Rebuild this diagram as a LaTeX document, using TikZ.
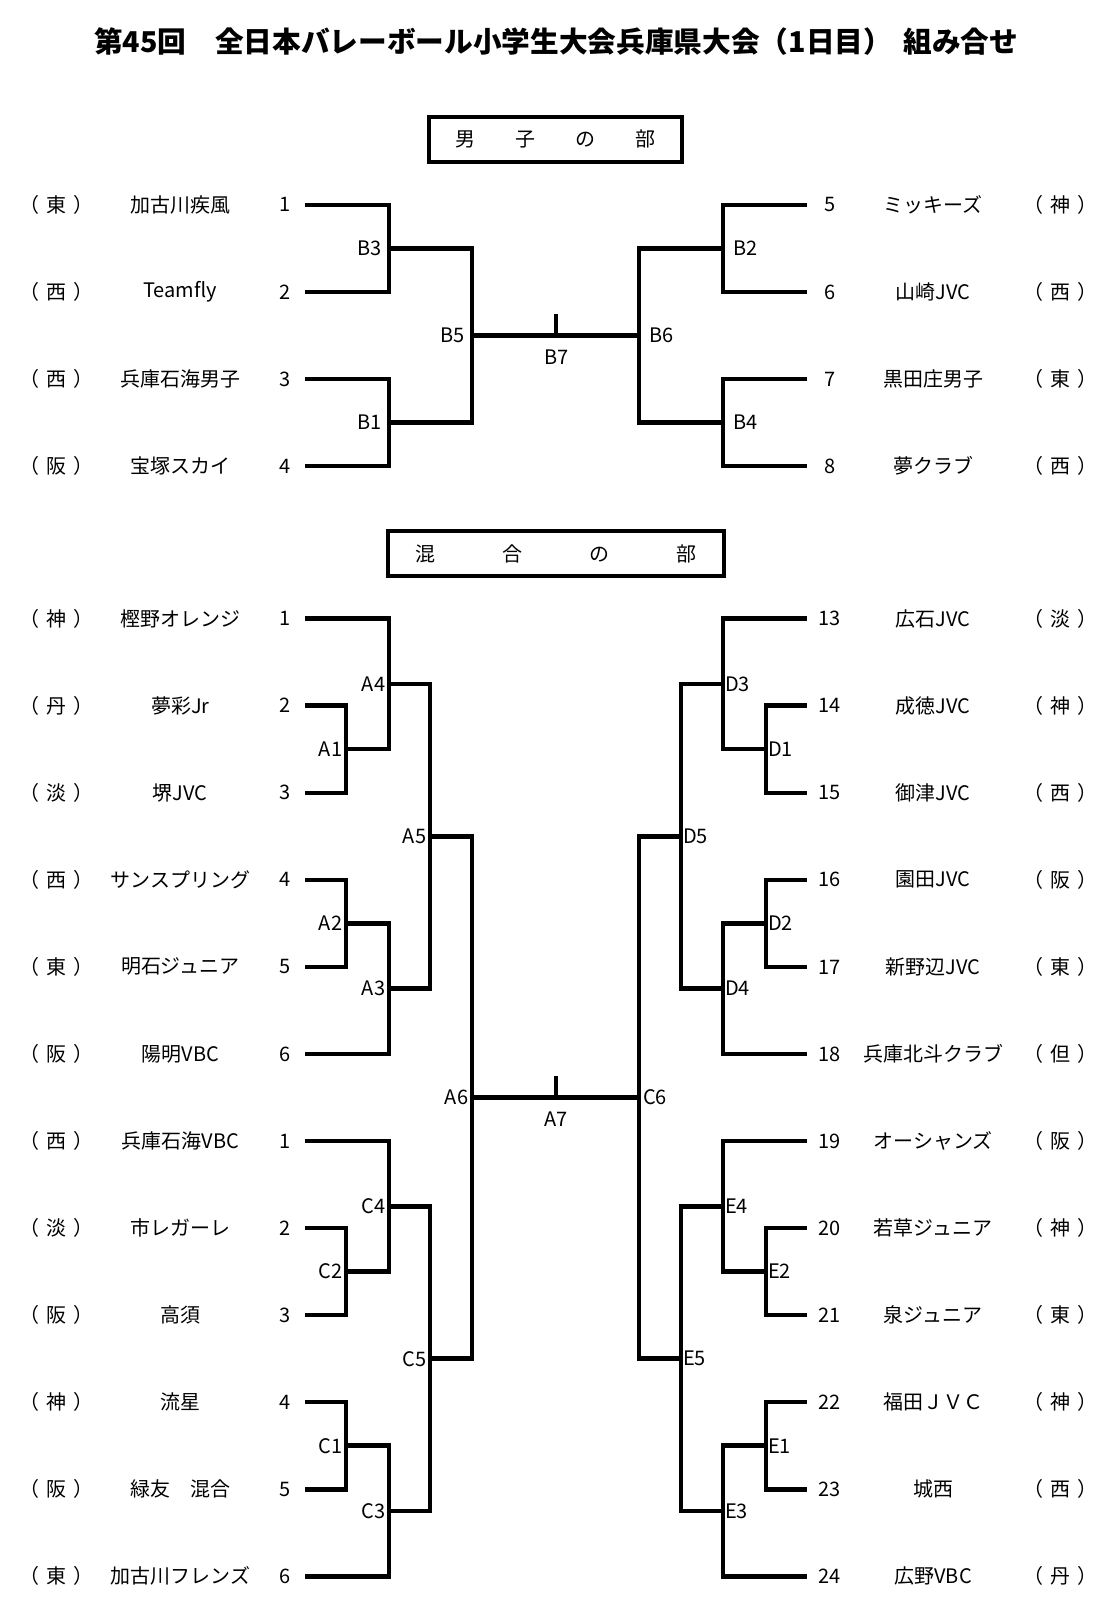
\documentclass[tikz,border=0pt]{standalone}
\usepackage{fontspec}
\setmainfont{Noto Sans CJK JP}
\usetikzlibrary{calc}

\tikzset{
  bracket/.style={line width=2.2pt, line join=miter},
  team/.style={inner sep=0pt, font=\fontsize{9.75}{12}\selectfont},
  game/.style={inner sep=1.8pt, font=\fontsize{9.75}{12}\selectfont},
  headbox/.style={draw, line width=2.2pt, minimum height=22pt, inner sep=0pt,
    font=\fontsize{9.75}{12}\selectfont},
  titletext/.style={inner sep=0pt, font=\fontsize{14}{16}\selectfont\bfseries}
}
\newcommand{\area}[1]{（\hspace{0.35em}#1\hspace{0.35em}）}

\begin{document}
\begin{tikzpicture}[x=0.5pt,y=-0.5pt]
        \useasboundingbox (0,0) rectangle (1088,1567);

        % draw the title
        \node[titletext] (title) at (543,41) {第45回　全日本バレーボール小学生大会兵庫県大会（1日目）\hspace{0.4em}組み合せ};

        % boys
        \node[headbox, minimum width=123.5pt] (boyshead) at (542.5,136)
                {男\hspace{2em}子\hspace{2em}の\hspace{2em}部};

        \foreach \y/\num/\team/\pref in {
            200/1/加古川疾風/東,
            285/2/Teamfly/西,
            370/3/兵庫石海男子/西,
            455/4/宝塚スカイ/阪} {
                \node[team] (bp\num) at (55,\y) {\area{\pref}};
                \node[team] (bt\num) at (176,\y) {\team};
                \node[team] (bn\num) at (278,\y) {\num};
                \coordinate (b\num) at (298,\y);
        }
        \foreach \y/\num/\team/\pref in {
            200/5/ミッキーズ/神,
            285/6/山崎JVC/西,
            370/7/黒田庄男子/東,
            455/8/夢クラブ/西} {
                \node[team] (bn\num) at (810,\y) {\num};
                \node[team] (bt\num) at (911,\y) {\team};
                \node[team] (bp\num) at (1035,\y) {\area{\pref}};
                \coordinate (b\num) at (788,\y);
        }

        % match points
        \foreach \m/\x/\y in {B3/380/242.5, B1/380/412.5, B5/461/327.5,
                B2/706/242.5, B4/706/412.5, B6/624/327.5, B7/543/327.5}
                \coordinate (\m) at (\x,\y);
        \coordinate (B7top) at (543,307);

        \draw[bracket] (b1) -| (B3) |- (b2);
        \draw[bracket] (b3) -| (B1) |- (b4);
        \draw[bracket] (B3) -| (B5) |- (B1);
        \draw[bracket] (b5) -| (B2) |- (b6);
        \draw[bracket] (b7) -| (B4) |- (b8);
        \draw[bracket] (B2) -| (B6) |- (B4);
        \draw[bracket] (B5) -- (B6);
        \draw[bracket] (B7) -- (B7top);

        \foreach \m in {B3,B1,B5}
                \node[game, left, inner sep=3.5pt] (l\m) at (\m) {\m};
        \foreach \m in {B2,B4,B6}
                \node[game, right, xshift=3pt] (l\m) at (\m) {\m};
        \node[game] (lB7) at (543,349) {B7};

        % mixed
        \node[headbox, minimum width=164pt] (mixhead) at (543,540.5)
                {混\hspace{3.35em}合\hspace{3.35em}の\hspace{3.35em}部};

        \foreach \k/\num/\team/\pref in {
            1/1/樫野オレンジ/神,
            2/2/夢彩Jr/丹,
            3/3/堺JVC/淡,
            4/4/サンスプリング/西,
            5/5/明石ジュニア/東,
            6/6/陽明VBC/阪,
            7/1/兵庫石海VBC/西,
            8/2/市レガーレ/淡,
            9/3/高須/阪,
            10/4/流星/神,
            11/5/緑友　混合/阪,
            12/6/加古川フレンズ/東} {
                \pgfmathsetmacro{\y}{519+85*\k}
                \node[team] (xp\k) at (55,\y) {\area{\pref}};
                \node[team] (xt\k) at (176,\y) {\team};
                \node[team] (xn\k) at (278,\y) {\num};
                \coordinate (x\k) at (298,\y);
        }
        \foreach \k/\team/\pref in {
            13/広石JVC/淡,
            14/成徳JVC/神,
            15/御津JVC/西,
            16/園田JVC/阪,
            17/新野辺JVC/東,
            18/兵庫北斗クラブ/但,
            19/オーシャンズ/阪,
            20/若草ジュニア/神,
            21/泉ジュニア/東,
            22/福田ＪＶＣ/神,
            23/城西/西,
            24/広野VBC/丹} {
                \pgfmathsetmacro{\y}{85*\k-501}
                \node[team] (xn\k) at (810,\y) {\k};
                \node[team] (xt\k) at (911,\y) {\team};
                \node[team] (xp\k) at (1035,\y) {\area{\pref}};
                \coordinate (x\k) at (788,\y);
        }

        % match points
        \foreach \m/\x/\y in {
            A1/338/731.5, A4/380/667.75, A2/338/901.5, A3/380/965.25, A5/420/816.5,
            C2/338/1241.5, C4/380/1177.75, C1/338/1411.5, C3/380/1475.25, C5/420/1326.5,
            A6/461/1071.5, A7/543/1071.5,
            D1/748/731.5, D3/706/667.75, D2/748/901.5, D4/706/965.25, D5/665/816.5,
            E2/748/1241.5, E4/706/1177.75, E1/748/1411.5, E3/706/1475.25, E5/665/1326.5,
            C6/624/1071.5}
                \coordinate (\m) at (\x,\y);
        \coordinate (A7top) at (543,1051);

        % left half
        \draw[bracket] (x2) -| (A1) |- (x3);
        \draw[bracket] (x1) -| (A4) |- (A1);
        \draw[bracket] (x4) -| (A2) |- (x5);
        \draw[bracket] (A2) -| (A3) |- (x6);
        \draw[bracket] (A4) -| (A5) |- (A3);
        \draw[bracket] (x8) -| (C2) |- (x9);
        \draw[bracket] (x7) -| (C4) |- (C2);
        \draw[bracket] (x10) -| (C1) |- (x11);
        \draw[bracket] (C1) -| (C3) |- (x12);
        \draw[bracket] (C4) -| (C5) |- (C3);
        \draw[bracket] (A5) -| (A6) |- (C5);
        % right half
        \draw[bracket] (x14) -| (D1) |- (x15);
        \draw[bracket] (x13) -| (D3) |- (D1);
        \draw[bracket] (x16) -| (D2) |- (x17);
        \draw[bracket] (D2) -| (D4) |- (x18);
        \draw[bracket] (D3) -| (D5) |- (D4);
        \draw[bracket] (x20) -| (E2) |- (x21);
        \draw[bracket] (x19) -| (E4) |- (E2);
        \draw[bracket] (x22) -| (E1) |- (x23);
        \draw[bracket] (E1) -| (E3) |- (x24);
        \draw[bracket] (E4) -| (E5) |- (E3);
        \draw[bracket] (D5) -| (C6) |- (E5);
        % final
        \draw[bracket] (A6) -- (C6);
        \draw[bracket] (A7) -- (A7top);

        \foreach \m in {A1,A2,A3,A4,A5,A6,C1,C2,C3,C4,C5}
                \node[game, left] (l\m) at (\m) {\m};
        \foreach \m in {D1,D2,D3,D4,D5,E1,E2,E3,E4,E5}
                \node[game, right, inner sep=0.8pt] (l\m) at (\m) {\m};
        \node[game, right] (lC6) at (C6) {C6};
        \node[game] (lA7) at (543,1093) {A7};
\end{tikzpicture}
\end{document}
